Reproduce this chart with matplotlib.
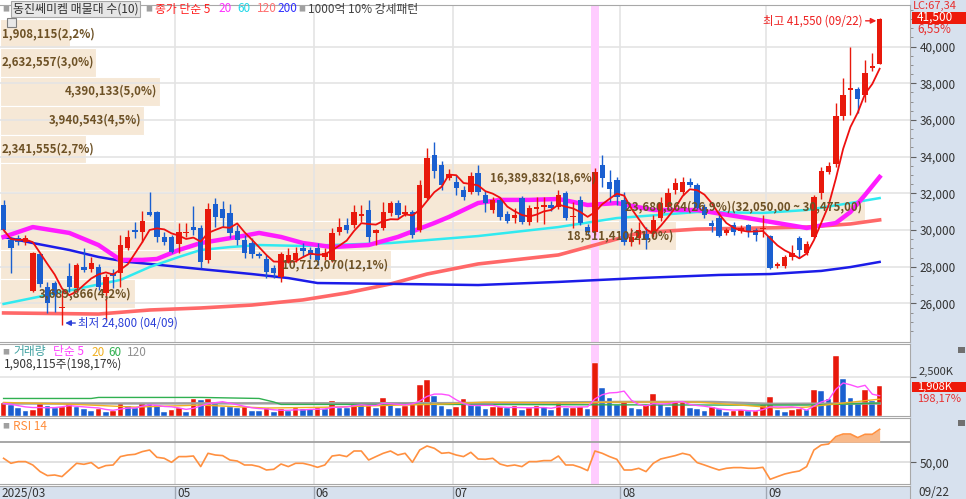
import numpy as np
import pandas as pd
import matplotlib
matplotlib.use("Agg")
import matplotlib.pyplot as plt
from matplotlib.patches import Rectangle

plt.rcParams['font.family'] = ['Noto Sans CJK KR', 'DejaVu Sans']

# 일봉 시가/고가/저가/종가 (2025/03 말 ~ 09/22)
opens = [31360, 29450, 29560, 29350, 26680, 28690, 26900, 27110, 25750, 27490,
         26840, 27980, 27870, 27980, 26570, 27660, 27660, 29020, 30000, 29890,
         30980, 30980, 29620, 29620, 29240, 29840, 30160, 30110, 28370, 31420,
         31150, 30930, 29950, 29450, 29300, 28700, 28420, 27930, 27440, 28310,
         28370, 29020, 28910, 29020, 28530, 28370, 29890, 30270, 30270, 30760,
         31090, 29840, 30110, 30930, 31470, 30870, 30980, 30000, 31740, 34090,
         33540, 32830, 32610, 32180, 32070, 33110, 31910, 31090, 31630, 30870,
         30660, 31740, 30440, 31150, 31250, 31360, 31250, 32020, 30710, 31630,
         30160, 29890, 33540, 32610, 32720, 31630, 29350, 29560, 29780, 29890,
         30650, 31250, 32180, 32070, 32610, 32450, 31250, 30380, 30650, 29840,
         30270, 29950, 30270, 30000, 30050, 29670, 28040, 28040, 28530, 29560,
         28750, 29620, 32020, 33160, 33600, 36220, 37650, 37700, 37380, 38850,
         39070]
highs = [31630, 29620, 29730, 29730, 28800, 28750, 27170, 27230, 26730, 28200,
         28200, 29020, 28530, 28150, 27600, 27870, 29730, 30000, 30440, 31040,
         32070, 31040, 29890, 29730, 30380, 30380, 31310, 30270, 31470, 31740,
         31580, 31420, 30270, 29730, 29560, 28800, 28640, 28090, 28800, 29020,
         29070, 29290, 29070, 29290, 29020, 30110, 30650, 30650, 31360, 31360,
         31630, 30050, 31520, 31580, 31630, 31360, 31090, 32720, 34470, 34800,
         33760, 33310, 33000, 32400, 33160, 33540, 32100, 31800, 31800, 31040,
         31200, 31850, 31360, 31800, 31800, 31580, 32180, 32130, 31520, 31850,
         30330, 33380, 34090, 33270, 32890, 32070, 30110, 30440, 30160, 30820,
         31800, 32290, 32830, 32890, 32830, 32560, 31420, 30550, 30980, 30110,
         30440, 30270, 30330, 30110, 30820, 29730, 28260, 28640, 29180, 29670,
         29400, 31910, 33430, 33710, 36920, 38310, 40000, 37810, 39240, 39620,
         41550]
lows = [29890, 27660, 29180, 29180, 26600, 26900, 25480, 25530, 24800, 26620,
        26620, 27710, 27710, 26730, 25100, 26840, 26900, 28910, 29560, 29350,
        30760, 29350, 29180, 28750, 28750, 29620, 29730, 27930, 28200, 30160,
        30160, 29570, 29180, 28470, 28470, 28470, 27380, 27380, 27170, 28200,
        28260, 28530, 28420, 28090, 28370, 28260, 29730, 29840, 30110, 30440,
        29350, 29180, 30000, 30760, 30650, 30760, 29560, 29900, 31690, 32830,
        32180, 32720, 31900, 31630, 31960, 31910, 30980, 30930, 30550, 30380,
        30380, 30330, 30270, 30440, 30330, 31040, 31150, 30550, 30110, 30270,
        29730, 29730, 32340, 31520, 31360, 29180, 29130, 29240, 28970, 29620,
        30490, 31090, 31960, 31910, 32340, 31150, 30660, 29890, 29620, 29730,
        29730, 29840, 29620, 29400, 29620, 27880, 27930, 27930, 28370, 28470,
        28640, 29560, 31690, 33050, 33430, 36000, 36270, 36380, 37000, 38690,
        39020]
closes = [30000, 29020, 29350, 29560, 28750, 27060, 26020, 26460, 25770, 26900,
          28090, 27820, 28200, 26900, 27440, 27500, 29180, 29620, 29890, 30490,
          30820, 29620, 29350, 28800, 29890, 29890, 30000, 28260, 31150, 30710,
          30650, 29840, 29450, 28750, 28700, 28580, 27710, 27660, 28700, 28640,
          28750, 28860, 28640, 28370, 28750, 29840, 30160, 30000, 30980, 30870,
          29620, 30000, 30980, 31470, 30820, 30980, 29730, 32450, 33920, 33220,
          32450, 33050, 32290, 31800, 32940, 32070, 31470, 31630, 30710, 30490,
          30820, 30440, 31200, 31250, 31360, 31200, 31910, 30650, 30760, 30380,
          29890, 33160, 32830, 32230, 31800, 29350, 29620, 30000, 29450, 30550,
          31470, 32020, 32560, 32610, 32450, 31200, 30820, 30220, 29670, 30000,
          29890, 30110, 29890, 29730, 30110, 27930, 28150, 28530, 28750, 28910,
          29240, 31800, 33220, 33490, 36220, 37370, 37760, 37150, 38580, 38950,
          41500]
# 거래량 (주)
volumes = [806000, 700000, 488000, 339000, 382000, 806000, 636000, 530000, 594000, 763000,
           594000, 445000, 339000, 445000, 276000, 318000, 848000, 636000, 488000, 848000,
           742000, 700000, 276000, 382000, 488000, 276000, 1060000, 1018000, 1102000, 806000,
           594000, 580000, 530000, 594000, 339000, 335000, 488000, 233000, 445000, 339000,
           488000, 424000, 420000, 488000, 445000, 954000, 530000, 488000, 912000, 700000,
           806000, 488000, 1124000, 806000, 530000, 636000, 806000, 2014000, 2290000, 1272000,
           636000, 445000, 551000, 1081000, 678000, 660000, 445000, 551000, 580000, 520000,
           636000, 403000, 488000, 636000, 551000, 403000, 870000, 500000, 540000, 570000,
           470000, 3413000, 1823000, 1124000, 700000, 912000, 488000, 445000, 700000, 1442000,
           763000, 572000, 912000, 930000, 509000, 445000, 339000, 551000, 424000, 276000,
           297000, 382000, 318000, 325000, 700000, 1187000, 382000, 276000, 382000, 424000,
           382000, 1696000, 1611000, 1060000, 3816000, 2396000, 1124000, 848000, 1654000, 962870,
           1908115]
rsi14 = [54, 49, 50.7, 50.7, 47.3, 40.7, 36.7, 37.3, 35.7, 42.3,
         49, 48, 49.7, 44, 46.7, 47.3, 55.7, 57.3, 58, 60.7,
         62.3, 55, 54, 50, 55.7, 55.7, 56.3, 45.7, 59, 57.3,
         56.7, 52.3, 51.3, 47.3, 47.3, 45.7, 42.3, 43, 48.3, 45.7,
         49, 49, 47.3, 45, 47.3, 56.3, 57.3, 55.7, 61.3, 61.3,
         52.3, 55.7, 59, 61.3, 57.3, 59, 50, 62.3, 66.3, 64,
         59, 59.7, 57.3, 55.7, 60, 53.3, 53, 54, 48.3, 46.3,
         47.3, 45.7, 50.7, 50.7, 51.7, 51.7, 56.3, 47.3, 47.3, 45,
         41.7, 61.3, 59, 55.7, 53, 42.3, 42.3, 44, 40.7, 49,
         53.3, 55, 56.7, 59, 57.3, 49.7, 47.3, 44.7, 42.3, 44,
         44.7, 44.7, 44, 44, 45, 33, 35.7, 38.3, 40, 41.3,
         45.7, 62.3, 67.3, 68.3, 75.7, 78.3, 78.3, 74.7, 78, 78,
         83]

# 이동평균선
ma20_x = [0, 4, 9, 13, 16, 19, 21, 24, 27, 32, 35, 38, 41, 45, 50, 54, 59, 61, 65,
          68, 72, 76, 78, 80, 84, 89, 95, 101, 106, 110, 114, 116, 118, 120]
ma20 = [29620, 30160, 29840, 29180, 28370, 28370, 28420, 28910, 29290, 29620, 29840,
        29620, 29290, 29070, 29180, 29620, 30380, 30710, 31470, 31640, 31640, 31690,
        31530, 31360, 31470, 31090, 31090, 30710, 30380, 30110, 30380, 30980, 31910, 32890]
ma60_x = [0, 8, 16, 20, 24, 27, 31, 35, 41, 53, 65, 76, 84, 95, 104, 110, 116, 120]
ma60 = [25970, 26620, 27280, 27980, 28530, 28910, 29070, 29180, 29130, 29290, 29670,
        30160, 30650, 30980, 30930, 31090, 31470, 31740]
ma120_x = [0, 13, 20, 27, 34, 41, 47, 53, 58, 65, 76, 81, 87, 95, 104, 110, 116, 120]
ma120 = [25480, 25420, 25640, 25750, 25910, 26190, 26570, 27060, 27600, 28150, 28640,
         29180, 29840, 30050, 30110, 30160, 30330, 30550]
ma200_x = [0, 4, 9, 13, 17, 20, 27, 34, 39, 43, 54, 65, 76, 87, 98, 105, 112, 116, 120]
ma200 = [29620, 29290, 28910, 28530, 28260, 28150, 27870, 27600, 27380, 27110, 27060,
         27000, 27170, 27380, 27550, 27600, 27770, 27980, 28260]

# 거래량 이동평균
vma20_x = [0, 9, 18, 27, 36, 45, 54, 60, 63, 66, 77, 84, 95, 101, 106, 110, 115, 120]
vma20 = [870000, 760000, 570000, 700000, 510000, 570000, 700000, 760000, 830000, 890000,
         830000, 890000, 890000, 700000, 510000, 570000, 830000, 1080000]
vma60_x = [0, 12, 13, 27, 35, 37, 38, 60, 80, 100, 110, 117, 120]
vma60 = [1124000, 1124000, 1190000, 1190000, 1124000, 900000, 742000, 742000, 720000,
         700000, 700000, 790000, 830000]
vma120_x = [0, 60, 85, 97, 105, 120]
vma120 = [800000, 820000, 900000, 900000, 780000, 800000]

# 매물대 (10개)
band_low = [39925, 38350, 36775, 35200, 33625, 32050, 30475, 28900, 27325, 25750]
band_vol = [1908115, 2632557, 4390133, 3940543, 2341555, 16389832, 23680864,
            18511410, 10712070, 3689866]
band_pct = [2.2, 3.0, 5.0, 4.5, 2.7, 18.6, 26.9, 21.0, 12.1, 4.2]
band_h = 1575

months = ['2025/03', '05', '06', '07', '08', '09']
month_start = [0, 24, 43, 62, 85, 105]
signal_day = 81
last_date = '09/22'
low_date = '04/09'
lc_value = 67.34

RED = '#e8190c'
BLUE = '#1a5fd0'
TAN = '#f6e8d6'
GRID = '#e4e4e4'
STRIP = '#d7e1ee'

W, H = 966, 499
def fx(p):
    return p / W
def fy(p):
    return 1 - p / H

fig = plt.figure(figsize=(W / 100, H / 100), dpi=100)
fig.patches.append(Rectangle((fx(910), 0), fx(56), 1, transform=fig.transFigure,
                             facecolor=STRIP, edgecolor='none', zorder=-5))

ax = fig.add_axes([0, fy(342), fx(910), (342 - 5) / H])
ax_v = fig.add_axes([0, fy(416), fx(910), (416 - 344) / H])
ax_r = fig.add_axes([0, fy(484), fx(910), (484 - 418) / H])
ax_x = fig.add_axes([0, 0, fx(910), 13 / H])

x = np.arange(len(closes))
o, h, l, c = map(np.array, (opens, highs, lows, closes))
vol = np.array(volumes, dtype=float)
rsi = np.array(rsi14)
x0, x1 = -0.493, 124.16

for a in (ax, ax_v, ax_r, ax_x):
    a.set_xlim(x0, x1)
    a.set_xticks([])
    a.spines['left'].set_visible(False)
    for s in ('top', 'bottom', 'right'):
        a.spines[s].set_color('#a8a8a8')
    a.yaxis.tick_right()
    a.tick_params(axis='y', colors='#606060', labelcolor='#333333', labelsize=8.5,
                  length=4, pad=3)
    if a is not ax_x:
        for m in month_start[1:]:
            a.axvline(m - 0.5, color=GRID, lw=1.2, zorder=0.5)
        a.axvspan(signal_day - 0.5, signal_day + 0.5, color='#ffccff', lw=0, zorder=0.6)

# ---- 가격 패널
ax.set_ylim(23896, 42262)
yt = list(range(26000, 40001, 2000))
ax.set_yticks(yt)
ax.set_yticklabels([f"{v:,}" for v in yt])
ax.set_yticks(np.arange(24500, 42001, 500), minor=True)
ax.tick_params(axis='y', which='minor', length=2, colors='#808080')
for v in yt:
    ax.axhline(v, color=GRID, lw=1.2, zorder=0.5)

scale = 118.5 / max(band_vol)
imax = int(np.argmax(band_vol))
for k, (lo, v, p) in enumerate(zip(band_low, band_vol, band_pct)):
    w = v * scale
    ax.barh(lo + band_h / 2, w, height=band_h, left=x0, color=TAN, edgecolor='white',
            lw=0.8, zorder=0.2)
    lab = f"{v:,}({p:.1f}%)".replace('.', ',')
    if k == imax:
        lab += f"({lo + band_h:,.2f} ~ {lo:,.2f})".replace('.', ',')
    if w * 7.3 > 110:
        ax.text(x0 + w - 3 / 7.3, lo + band_h / 2, lab, ha='right', va='center',
                fontsize=8.3, fontweight='bold', color='#6e5226', zorder=6)
    else:
        ax.text(x0 + 2 / 7.3, lo + band_h / 2, lab, ha='left', va='center',
                fontsize=8.3, fontweight='bold', color='#6e5226', zorder=6)

ax.plot(ma120_x, ma120, color='#ff6868', lw=2.6, zorder=2)
ax.plot(ma200_x, ma200, color='#1c1ce8', lw=1.8, zorder=2)
ax.plot(ma60_x, ma60, color='#30eaf0', lw=1.8, zorder=2)
ax.plot(ma20_x, ma20, color='#ff1cff', lw=3.2, zorder=2.1)

ccol = np.where(c >= o, RED, BLUE)
ax.vlines(x, l, h, colors=ccol, lw=1, zorder=3)
ax.bar(x, np.maximum(np.abs(c - o), 60), bottom=np.minimum(o, c), width=0.74,
       color=ccol, lw=0, zorder=3.1)
ma5 = pd.Series(c).rolling(5, min_periods=1).mean()
ax.plot(x, ma5, color='#ee1010', lw=1.3, zorder=4)

hi_i = int(np.argmax(h))
lo_i = int(np.argmin(l))
ax.annotate(f"최고 {h[hi_i]:,} ({last_date})", xy=(hi_i - 0.45, h[hi_i] - 150),
            xytext=(hi_i - 2.3, h[hi_i] - 150), ha='right', va='center', fontsize=8.3,
            color='#ee2020', zorder=7,
            arrowprops=dict(arrowstyle='-|>', color='#ee2020', lw=1, mutation_scale=8,
                            shrinkA=0, shrinkB=0))
ax.annotate(f"최저 {l[lo_i]:,} ({low_date})", xy=(lo_i + 0.45, l[lo_i] + 130),
            xytext=(lo_i + 2.2, l[lo_i] + 130), ha='left', va='center', fontsize=8.3,
            color='#2b3fd8', zorder=7,
            arrowprops=dict(arrowstyle='-|>', color='#2b3fd8', lw=1, mutation_scale=8,
                            shrinkA=0, shrinkB=0))

# ---- 거래량 패널
ax_v.set_ylim(0, 4615000)
ax_v.set_yticks([2500000])
ax_v.set_yticklabels(['2,500K'])
ax_v.tick_params(axis='y', labelsize=8, pad=2)
for t in ax_v.get_yticklabels():
    t.set_va('bottom')
ax_v.axhline(2500000, color=GRID, lw=1.2, zorder=0.5)
prev = np.r_[vol[0] - 1, vol[:-1]]
vcol = np.where(vol > prev, RED, BLUE)
ax_v.bar(x, vol, width=0.78, color=vcol, edgecolor='white', lw=0.3, zorder=3)
ax_v.plot(vma120_x, vma120, color='#a0a0a0', lw=1.8, zorder=4)
ax_v.plot(vma60_x, vma60, color='#30b050', lw=1, zorder=4)
ax_v.plot(vma20_x, vma20, color='#f0b020', lw=1, zorder=4)
ax_v.plot(x, pd.Series(vol).rolling(5, min_periods=1).mean(), color='#ff50ff', lw=1,
          zorder=4)

# ---- RSI 패널
ax_r.set_ylim(28.3, 94.3)
ax_r.set_yticks([50])
ax_r.set_yticklabels(['50,00'])
ax_r.axhline(50, color='#dcdcdc', lw=1.2, zorder=0.5)
ax_r.axhline(70, color='#a0a0a0', lw=1.3, zorder=0.7)
ax_r.fill_between(x, rsi, 70, where=rsi >= 70, interpolate=True, color='#f8b98a',
                  lw=0, zorder=1)
ax_r.plot(x, rsi, color='#ff9040', lw=1.2, zorder=2)

# ---- 날짜 띠
ax_x.set_facecolor(STRIP)
ax_x.set_ylim(0, 1)
ax_x.set_yticks([])
ax_x.spines['bottom'].set_visible(False)
for m, lab in zip(month_start, months):
    if m > 0:
        ax_x.axvline(m - 0.5, color='#a0a8b4', lw=1)
    ax_x.text(m - 0.5 + 2 / 7.3, 0.45, lab, ha='left', va='center', fontsize=8.5,
              color='#333333')
fig.text(fx(918), fy(492), last_date, ha='left', va='center', fontsize=8.5, color='#333333')

# ---- 제목과 범례
def ftext(px, py, s, col, size=8.5, **kw):
    return fig.text(fx(px), fy(py), s, color=col, fontsize=size, ha='left', va='center', **kw)

ftext(2, 9, '■', '#a0a0a0', 5)
ftext(13, 9, '동진쎄미켐 매물대 수(10)', '#333333', 8.6,
      bbox=dict(boxstyle='square,pad=0.15', fc='#e6e6e6', ec='#a8a8a8', lw=0.8))
ftext(145, 9, '■', '#a0a0a0', 5)
ftext(155, 9, '종가 단순 5', '#ff2020')
ftext(218, 9, '20', '#ff30ff')
ftext(237, 9, '60', '#20d8e8')
ftext(257, 9, '120', '#ff7070')
ftext(277, 9, '200', '#3030ff')
ftext(298, 9, '■', '#a0a0a0', 5)
ftext(308, 9, '1000억 10% 강세패턴', '#404040')
fig.patches.append(Rectangle((fx(7), fy(27)), fx(9), 9 / H, transform=fig.transFigure,
                             facecolor='#e8e8e8', edgecolor='#808080', lw=0.8))

ftext(2, 352, '■', '#a0a0a0', 5)
ftext(13, 352, '거래량', '#3fa0a0')
ftext(53, 352, '단순 5', '#ff40ff')
ftext(91, 352, '20', '#f0b020')
ftext(108, 352, '60', '#30b050')
ftext(127, 352, '120', '#909090')
ftext(4, 364, f"{int(vol[-1]):,}주({vol[-1] / vol[-2] * 100:.2f}%)".replace('.', ','),
      '#333333')
ftext(2, 426, '■', '#a0a0a0', 5)
ftext(13, 426, 'RSI 14', '#ff8c3a')

# ---- 오른쪽 현재값 표시
ftext(913, 6, f"LC:{lc_value:.2f}".replace('.', ','), '#e83030', 8)
fig.patches.append(Rectangle((fx(912), fy(23.5)), fx(54), 11.5 / H, transform=fig.transFigure,
                             facecolor='#ee1a0a', edgecolor='none'))
ftext(917, 17.5, f"{c[-1]:,}", 'white', 8.5)
ftext(917, 29.5, f"{(c[-1] / c[-2] - 1) * 100:.2f}%".replace('.', ','), '#e83030', 8.5)
fig.patches.append(Rectangle((fx(912), fy(392)), fx(54), 10.5 / H, transform=fig.transFigure,
                             facecolor='#ee1a0a', edgecolor='none'))
ftext(917, 386.7, f"{vol[-1] / 1000:,.0f}K", 'white', 8)
ftext(917, 399, f"{vol[-1] / vol[-2] * 100:.2f}%".replace('.', ','), '#e83030', 8)
for yy in (350, 423):
    fig.patches.append(Rectangle((fx(958), fy(yy + 3)), fx(7), 6 / H, transform=fig.transFigure,
                                 facecolor='#707070', edgecolor='none'))

fig.savefig('out.png', dpi=100)
